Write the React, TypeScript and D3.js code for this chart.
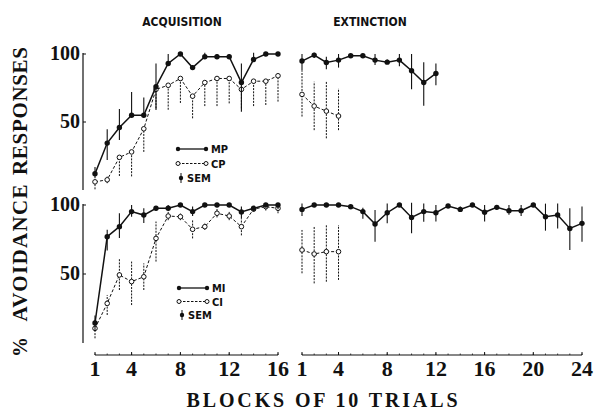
import React from "react";
import * as d3 from "d3";

// ---------- data ----------
const acqBlocks = d3.range(1, 17);
const extBlocksTop = d3.range(1, 13);
const extBlocksBot = d3.range(1, 25);
const extShort = [1, 2, 3, 4];

const acqMP = [12, 34.5, 46, 55, 55, 76, 93, 100, 90, 98, 98, 98, 79, 96, 100, 100];
const acqMPErr: [number, number][] = [[8.6, 17], [22, 44.6], [36.7, 59.5], [55, 72], [55, 68], [58.8, 93], [93, 100], [100, 100], [90, 92], [98, 101], [98, 100], [98, 100], [57.6, 93], [96, 101], [100, 100], [100, 100]];
const acqCP = [6, 7.5, 24, 28, 45, 74, 77, 82, 69, 79, 82, 82, 74, 80, 80, 84];
const acqCPErr: [number, number][] = [[0.5, 6], [5, 10], [10.3, 24], [10, 28], [28, 45], [60, 74], [59, 77], [64, 82], [52.7, 69], [61.7, 79], [61.7, 82], [63.7, 82], [60, 74], [61.7, 80], [62.5, 80], [65, 84]];

const extMP = [94.8, 99.2, 93.8, 95.5, 98.7, 98.7, 95.5, 94, 95.5, 87.7, 79, 85.7];
const extMPErr: [number, number][] = [[88, 100], [97, 101], [88.7, 98], [90, 100], [97, 100], [97, 100], [92, 100], [93, 96], [91, 100], [74, 100], [62, 94], [77, 93]];
const extCP = [70.3, 61.7, 58, 54.4];
const extCPErr: [number, number][] = [[54, 88], [44, 79.6], [38, 79.6], [44, 74.7]];

const acqMI = [14.5, 77, 84.3, 95.2, 92.7, 97.6, 97.6, 100, 95.2, 100, 100, 100, 95, 97.6, 100, 100];
const acqMIErr: [number, number][] = [[9, 20], [67, 82], [76, 94], [91.5, 100], [87, 97.6], [96, 99], [96, 100], [99, 100], [92, 99], [100, 100], [100, 100], [100, 100], [90, 99], [96, 99], [99, 100], [97, 101]];
const acqCI = [10.6, 28.7, 49.3, 44.5, 48, 75.8, 92, 91.5, 82.4, 84.3, 94, 92, 84.3, 97, 98.8, 97.6];
const acqCIErr: [number, number][] = [[3.4, 16.7], [20.3, 34.8], [38.4, 61.3], [27.5, 59], [38.4, 57.7], [59, 88], [89, 95], [89, 94], [75.8, 89], [82, 87], [91, 98], [89, 95], [78, 90], [95, 99], [96, 100], [94, 100]];

const extMI = [96.8, 100, 100, 100, 98.8, 95.2, 86.2, 94.4, 100, 91, 95.2, 94.4, 99.3, 96.8, 100, 94.7, 98.3, 95.9, 95.9, 100, 91.5, 92.7, 83, 86.7];
const extMIErr: [number, number][] = [[92, 101], [99, 101], [99, 101], [99, 101], [97, 100], [90, 98], [73.4, 96.4], [86.7, 101], [99, 101], [79.5, 101.7], [87.9, 101], [88, 100], [98, 100], [95, 99], [99, 101], [88, 100], [97, 100], [93, 100], [92, 100], [100, 100], [81.4, 101], [83, 101], [67.4, 97.6], [73.4, 99]];
const extCI = [67.4, 64.5, 66.2, 66.2];
const extCIErr: [number, number][] = [[50.5, 81.9], [43.2, 84.3], [44.4, 85.5], [45.7, 85.5]];

const acqTicks = [1, 4, 8, 12, 16];
const extTicks = [1, 4, 8, 12, 16, 20, 24];
const yTicks = [50, 100];
const topLegend = ["MP", "CP", "SEM"];
const botLegend = ["MI", "CI", "SEM"];

// ---------- layout ----------
const W = 596, H = 414;
const xL = d3.scaleLinear().domain([1, 16]).range([95, 278]);
const xR = d3.scaleLinear().domain([1, 24]).range([302, 582]);
const yTop = d3.scaleLinear().domain([0, 100]).range([190, 54]);
const yBot = d3.scaleLinear().domain([0, 100]).range([343, 205]);

const INK = "#111";
const SERIF = "'Liberation Serif', 'Times New Roman', Times, serif";
const SANS = "'DejaVu Sans Condensed', 'Liberation Sans Narrow', 'Liberation Sans', sans-serif";

type Scale = d3.ScaleLinear<number, number>;

function Series({ xs, vals, err, x, y, open }: { xs: number[]; vals: number[]; err: [number, number][]; x: Scale; y: Scale; open: boolean }) {
  const pts = xs.map((b, i) => [x(b), y(vals[i])] as [number, number]);
  const path = d3.line()(pts) || "";
  return (
    <g>
      {err.map((e, i) => (
        <line key={"e" + i} x1={x(xs[i])} x2={x(xs[i])} y1={y(e[0])} y2={y(e[1])}
          stroke={INK} strokeWidth={open ? 1 : 1.1} strokeDasharray={open ? "2,1.2" : undefined} />
      ))}
      <path d={path} fill="none" stroke={INK} strokeWidth={open ? 1 : 1.5} strokeDasharray={open ? "3,2" : undefined} />
      {pts.map((p, i) =>
        open ? (
          <circle key={i} cx={p[0]} cy={p[1]} r={2.3} fill="#fff" stroke={INK} strokeWidth={1} />
        ) : (
          <circle key={i} cx={p[0]} cy={p[1]} r={2.7} fill={INK} />
        )
      )}
    </g>
  );
}

function YAxis({ y }: { y: Scale }) {
  return (
    <g>
      <line x1={83} x2={83} y1={y(100) - 1} y2={y(0)} stroke={INK} strokeWidth={1.2} />
      {yTicks.map((t) => (
        <g key={t}>
          <line x1={83} x2={86} y1={y(t)} y2={y(t)} stroke={INK} strokeWidth={1} />
          <text x={80} y={y(t) + 6} textAnchor="end" fontFamily={SERIF} fontWeight="bold" fontSize={20} fill={INK}>{t}</text>
        </g>
      ))}
    </g>
  );
}

function XAxis({ x, ticks, n }: { x: Scale; ticks: number[]; n: number }) {
  const y0 = 355;
  return (
    <g>
      <line x1={x(1)} x2={x(n)} y1={y0} y2={y0} stroke={INK} strokeWidth={1.2} />
      {d3.range(1, n + 1).map((t) => (
        <line key={"m" + t} x1={x(t)} x2={x(t)} y1={y0} y2={y0 - 1.5} stroke={INK} strokeWidth={0.8} />
      ))}
      {ticks.map((t) => (
        <g key={t}>
          <line x1={x(t)} x2={x(t)} y1={y0} y2={y0 - 3} stroke={INK} strokeWidth={1} />
          <text x={x(t)} y={376} textAnchor="middle" fontFamily={SERIF} fontWeight="bold" fontSize={22} fill={INK}>{t}</text>
        </g>
      ))}
    </g>
  );
}

function Legend({ x0, y0, labels, dy }: { x0: number; y0: number; labels: string[]; dy: number }) {
  return (
    <g fontFamily={SANS} fontWeight="bold" fontSize={11} fill={INK}>
      <line x1={x0} x2={x0 + 28} y1={y0} y2={y0} stroke={INK} strokeWidth={1.3} />
      <circle cx={x0} cy={y0} r={2.2} fill={INK} />
      <circle cx={x0 + 28} cy={y0} r={2.2} fill={INK} />
      <text x={x0 + 33} y={y0 + 4}>{labels[0]}</text>
      <line x1={x0} x2={x0 + 28} y1={y0 + dy} y2={y0 + dy} stroke={INK} strokeWidth={1} strokeDasharray="2.5,1.5" />
      <circle cx={x0} cy={y0 + dy} r={2} fill="#fff" stroke={INK} strokeWidth={1} />
      <circle cx={x0 + 28} cy={y0 + dy} r={2} fill="#fff" stroke={INK} strokeWidth={1} />
      <text x={x0 + 33} y={y0 + dy + 4}>{labels[1]}</text>
      <line x1={x0 + 3} x2={x0 + 3} y1={y0 + 2 * dy - 5} y2={y0 + 2 * dy + 5} stroke={INK} strokeWidth={1} />
      <circle cx={x0 + 3} cy={y0 + 2 * dy} r={2.2} fill={INK} />
      <text x={x0 + 9} y={y0 + 2 * dy + 4}>{labels[2]}</text>
    </g>
  );
}

export default function App() {
  return (
    <svg width={W} height={H} viewBox={`0 0 ${W} ${H}`} style={{ position: "absolute", left: 0, top: 0, background: "#fff" }}>
      <rect width={W} height={H} fill="#fff" />
      {/* titles */}
      <text x={182} y={26} textAnchor="middle" fontFamily={SANS} fontWeight="bold" fontSize={12} fill={INK}>ACQUISITION</text>
      <text x={370} y={26} textAnchor="middle" fontFamily={SANS} fontWeight="bold" fontSize={12} fill={INK}>EXTINCTION</text>

      {/* y label */}
      <text transform="translate(27,111) rotate(-90)" textAnchor="middle" fontFamily={SERIF} fontWeight="bold" fontSize={21} fill={INK} textLength={128} lengthAdjust="spacing">RESPONSES</text>
      <text transform="translate(27,253) rotate(-90)" textAnchor="middle" fontFamily={SERIF} fontWeight="bold" fontSize={21} fill={INK} textLength={137} lengthAdjust="spacing">AVOIDANCE</text>
      <text transform="translate(27,347) rotate(-90)" textAnchor="middle" fontFamily={SERIF} fontWeight="bold" fontSize={20} fill={INK}>%</text>

      <YAxis y={yTop} />
      <YAxis y={yBot} />
      <XAxis x={xL} ticks={acqTicks} n={16} />
      <XAxis x={xR} ticks={extTicks} n={24} />

      {/* top panel */}
      <Series xs={acqBlocks} vals={acqCP} err={acqCPErr} x={xL} y={yTop} open />
      <Series xs={acqBlocks} vals={acqMP} err={acqMPErr} x={xL} y={yTop} open={false} />
      <Series xs={extShort} vals={extCP} err={extCPErr} x={xR} y={yTop} open />
      <Series xs={extBlocksTop} vals={extMP} err={extMPErr} x={xR} y={yTop} open={false} />

      {/* bottom panel */}
      <Series xs={acqBlocks} vals={acqCI} err={acqCIErr} x={xL} y={yBot} open />
      <Series xs={acqBlocks} vals={acqMI} err={acqMIErr} x={xL} y={yBot} open={false} />
      <Series xs={extShort} vals={extCI} err={extCIErr} x={xR} y={yBot} open />
      <Series xs={extBlocksBot} vals={extMI} err={extMIErr} x={xR} y={yBot} open={false} />

      <Legend x0={178} y0={149} labels={topLegend} dy={14.5} />
      <Legend x0={179} y0={288} labels={botLegend} dy={13.5} />

      <text x={322} y={407} textAnchor="middle" fontFamily={SERIF} fontWeight="bold" fontSize={20} fill={INK} textLength={271} lengthAdjust="spacing">BLOCKS OF 10 TRIALS</text>
    </svg>
  );
}
